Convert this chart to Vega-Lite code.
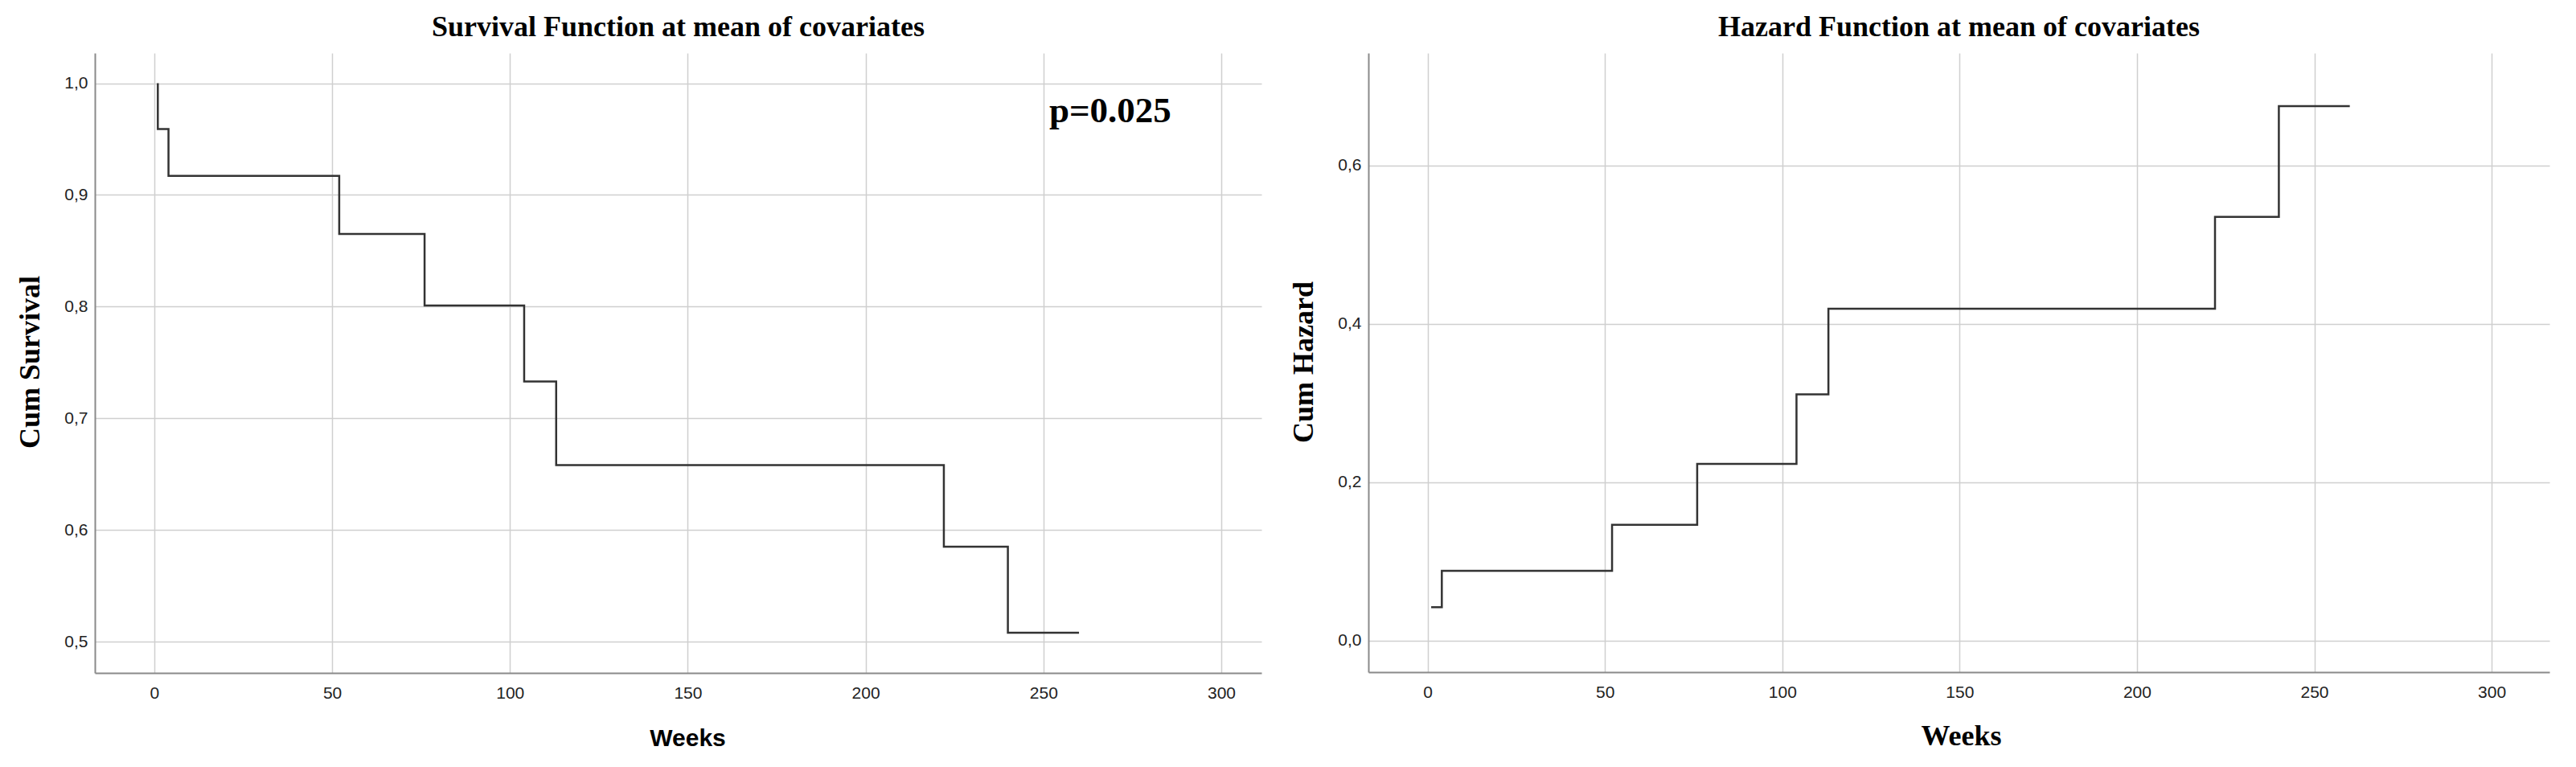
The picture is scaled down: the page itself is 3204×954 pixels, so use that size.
{
  "$schema": "https://vega.github.io/schema/vega-lite/v6.json",
  "background": "white",
  "padding": {"left": 19, "top": 16, "right": 33, "bottom": 10},
  "spacing": 133,
  "bounds": "flush",
  "config": {
    "view": {"stroke": null},
    "axis": {
      "grid": true,
      "gridColor": "#cfcfcf",
      "gridWidth": 1.5,
      "domainColor": "#8a8a8a",
      "domainWidth": 2,
      "ticks": false,
      "tickSize": 0,
      "labelFont": "Liberation Sans",
      "labelFontSize": 21,
      "labelColor": "#222",
      "titleColor": "#000",
      "titleFontWeight": "bold"
    },
    "axisX": {
      "labelPadding": 14,
      "titleX": 737,
      "titleY": 90,
      "titleBaseline": "alphabetic",
      "titleAlign": "center"
    },
    "axisY": {
      "labelPadding": 9,
      "titleX": -81,
      "titleY": 384,
      "titleAngle": 270,
      "titleAlign": "center",
      "titleBaseline": "middle",
      "titleFont": "Liberation Serif",
      "titleFontSize": 36
    },
    "title": {
      "font": "Liberation Serif",
      "fontSize": 36,
      "fontWeight": "bold",
      "color": "#000",
      "baseline": "alphabetic",
      "offset": 13
    }
  },
  "datasets": {
    "survival": [
      {"seq": 1, "week": 1, "cumSurvival": 1.0},
      {"seq": 2, "week": 1, "cumSurvival": 0.959},
      {"seq": 3, "week": 4, "cumSurvival": 0.917},
      {"seq": 4, "week": 52, "cumSurvival": 0.865},
      {"seq": 5, "week": 76, "cumSurvival": 0.801},
      {"seq": 6, "week": 104, "cumSurvival": 0.733},
      {"seq": 7, "week": 113, "cumSurvival": 0.658},
      {"seq": 8, "week": 222, "cumSurvival": 0.585},
      {"seq": 9, "week": 240, "cumSurvival": 0.508},
      {"seq": 10, "week": 260, "cumSurvival": 0.508}
    ],
    "hazard": [
      {"seq": 1, "week": 1, "cumHazard": 0.042},
      {"seq": 2, "week": 4, "cumHazard": 0.088},
      {"seq": 3, "week": 52, "cumHazard": 0.146},
      {"seq": 4, "week": 76, "cumHazard": 0.223},
      {"seq": 5, "week": 104, "cumHazard": 0.311},
      {"seq": 6, "week": 113, "cumHazard": 0.419},
      {"seq": 7, "week": 222, "cumHazard": 0.535},
      {"seq": 8, "week": 240, "cumHazard": 0.675},
      {"seq": 9, "week": 260, "cumHazard": 0.675}
    ],
    "annotation": [
      {"label": "p=0.025"}
    ]
  },
  "hconcat": [
    {
      "title": "Survival Function at mean of covariates",
      "width": 1451,
      "height": 771,
      "layer": [
        {
          "data": {"name": "survival"},
          "mark": {"type": "line", "interpolate": "step-after", "stroke": "#333", "strokeWidth": 2.5},
          "encoding": {
            "x": {
              "field": "week", "type": "quantitative",
              "scale": {"domain": [-16.7, 311.3], "nice": false, "zero": false},
              "axis": {"values": [0, 50, 100, 150, 200, 250, 300], "title": "Weeks", "titleFont": "Liberation Sans", "titleFontSize": 30}
            },
            "y": {
              "field": "cumSurvival", "type": "quantitative",
              "scale": {"domain": [0.472, 1.027], "nice": false, "zero": false},
              "axis": {"values": [0.5, 0.6, 0.7, 0.8, 0.9, 1.0], "labelExpr": "replace(format(datum.value, '.1f'), '.', ',')", "title": "Cum Survival"}
            },
            "order": {"field": "seq", "type": "quantitative"}
          }
        },
        {
          "data": {"name": "annotation"},
          "mark": {"type": "text", "font": "Liberation Serif", "fontSize": 45, "fontWeight": "bold", "align": "left", "baseline": "alphabetic", "color": "#000"},
          "encoding": {
            "x": {"datum": 251.6, "type": "quantitative"},
            "y": {"datum": 0.965, "type": "quantitative"},
            "text": {"field": "label", "type": "nominal"}
          }
        }
      ]
    },
    {
      "title": "Hazard Function at mean of covariates",
      "width": 1469,
      "height": 770,
      "data": {"name": "hazard"},
      "mark": {"type": "line", "interpolate": "step-after", "stroke": "#333", "strokeWidth": 2.5},
      "encoding": {
        "x": {
          "field": "week", "type": "quantitative",
          "scale": {"domain": [-16.7, 316.3], "nice": false, "zero": false},
          "axis": {"values": [0, 50, 100, 150, 200, 250, 300], "title": "Weeks", "titleFont": "Liberation Serif", "titleFontSize": 36}
        },
        "y": {
          "field": "cumHazard", "type": "quantitative",
          "scale": {"domain": [-0.04, 0.742], "nice": false, "zero": false},
          "axis": {"values": [0, 0.2, 0.4, 0.6], "labelExpr": "replace(format(datum.value, '.1f'), '.', ',')", "title": "Cum Hazard"}
        },
        "order": {"field": "seq", "type": "quantitative"}
      }
    }
  ]
}
